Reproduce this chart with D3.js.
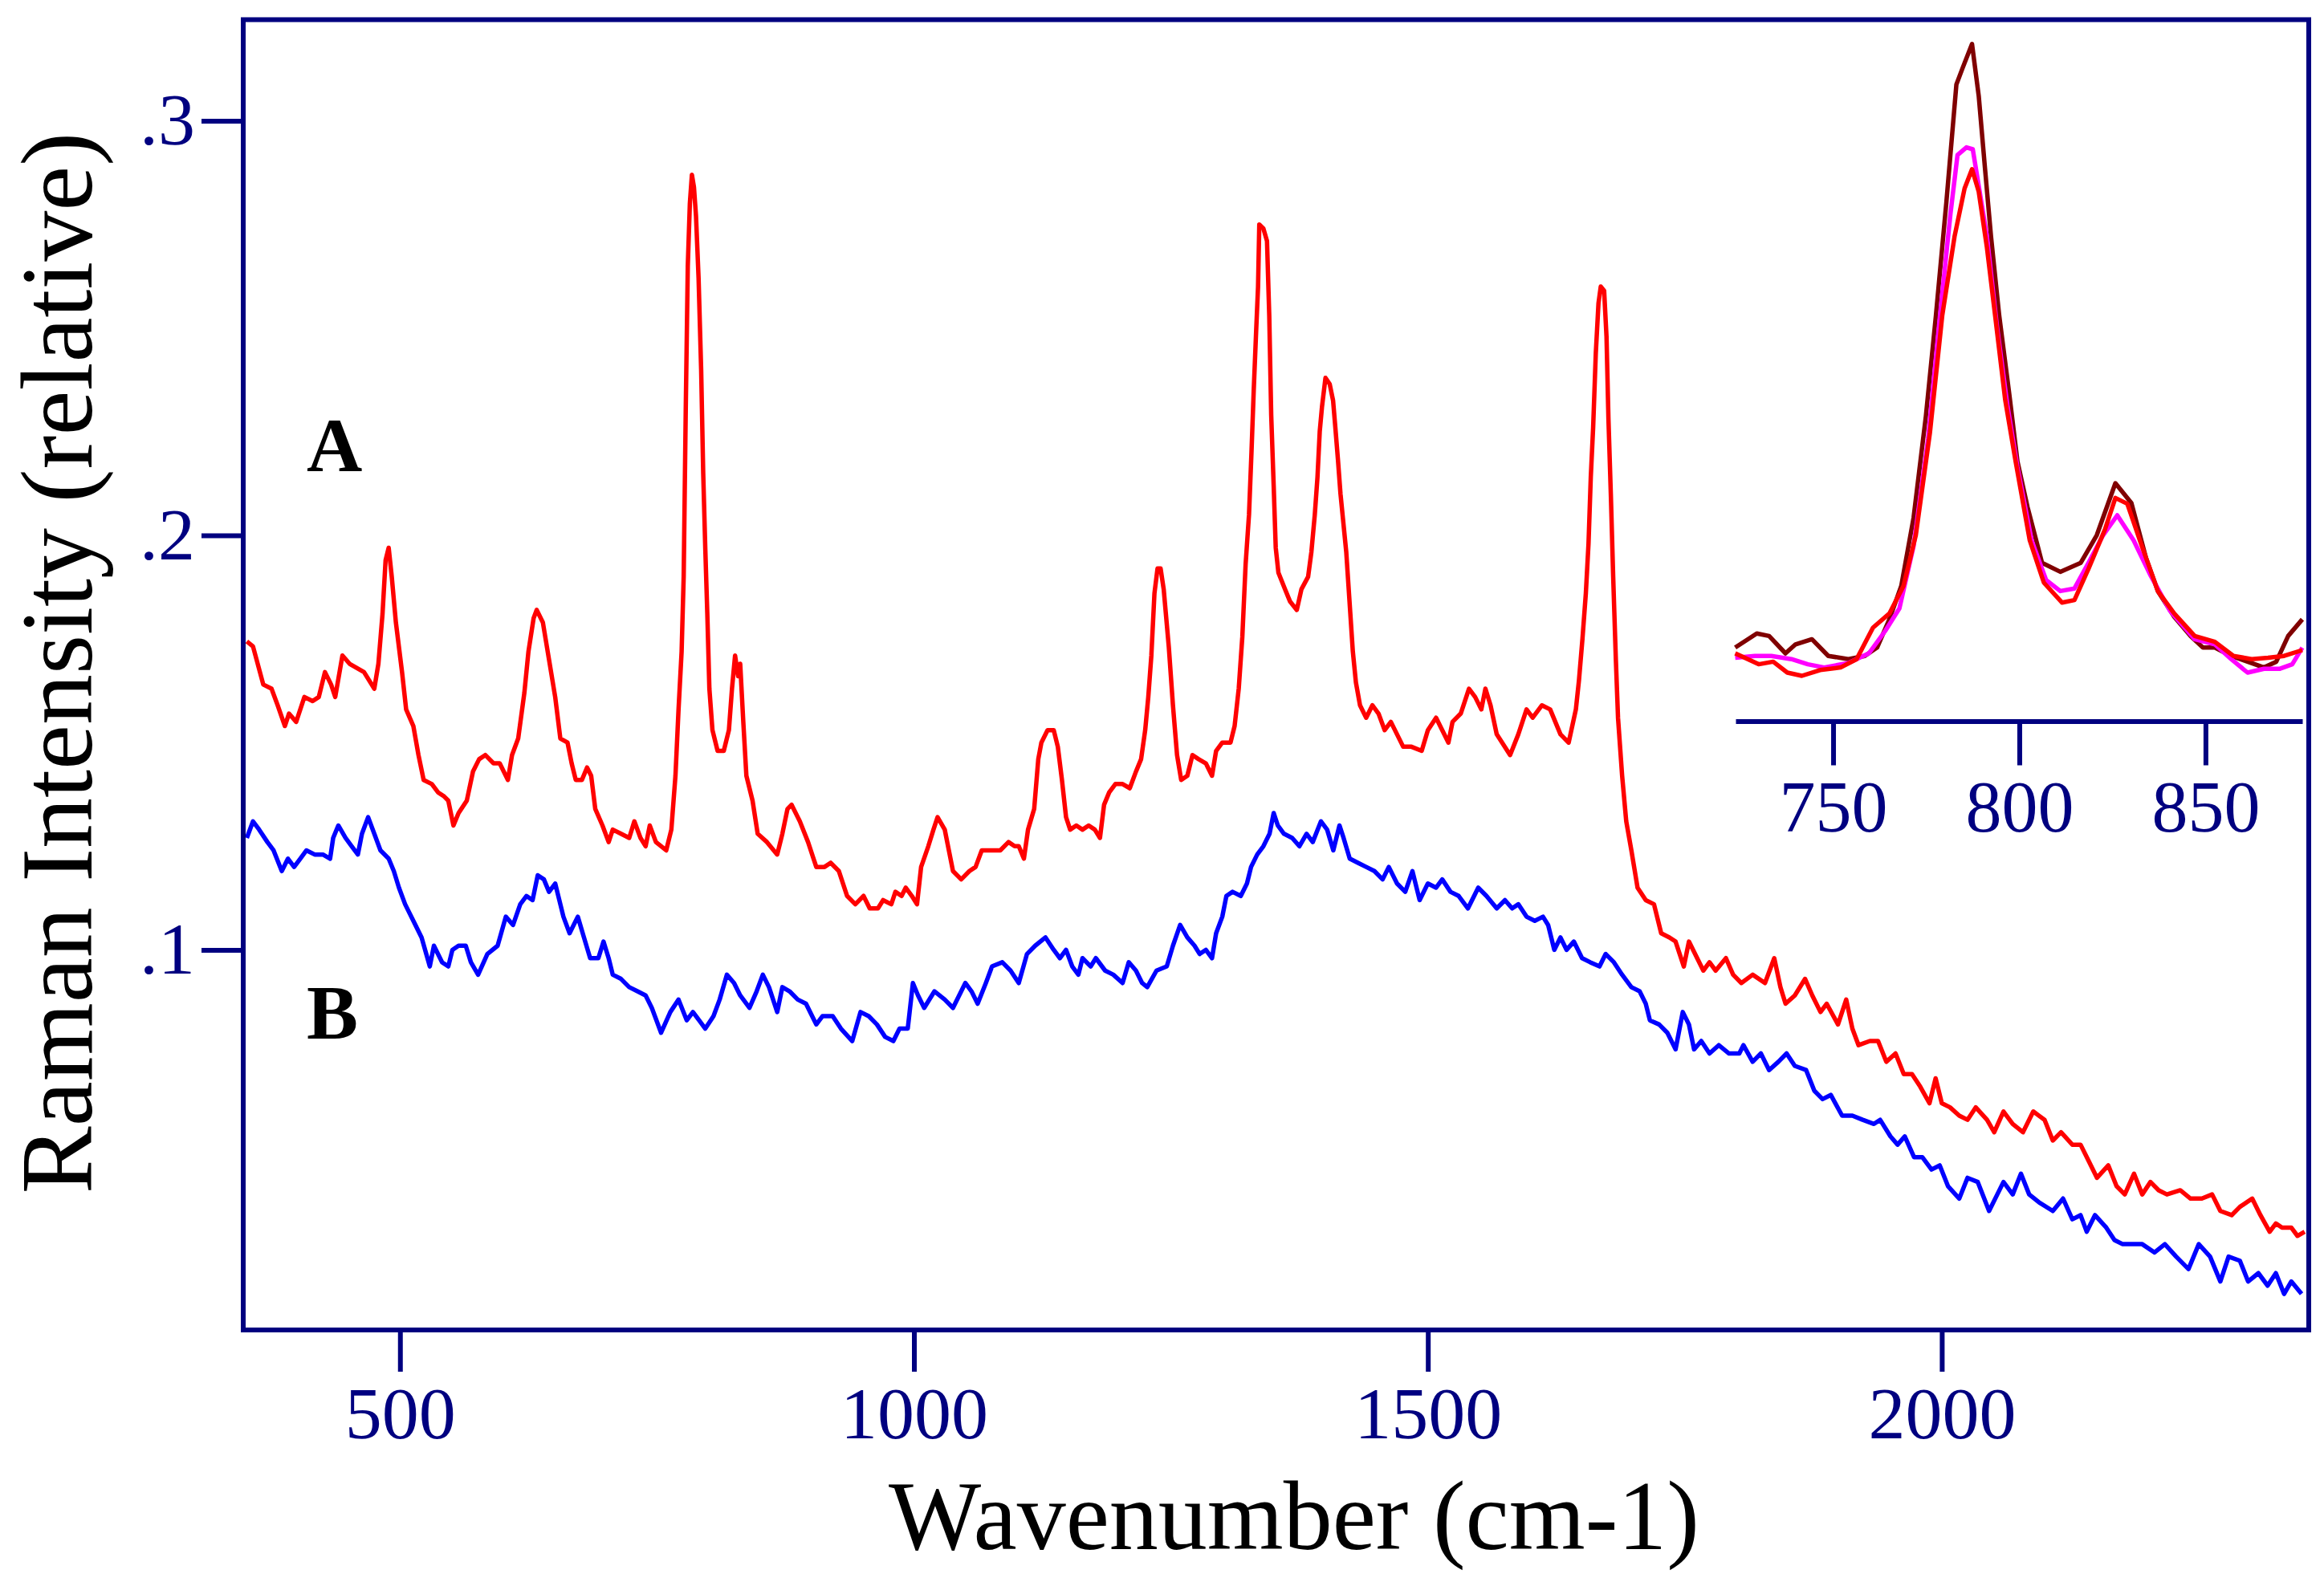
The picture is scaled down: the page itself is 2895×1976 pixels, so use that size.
<!DOCTYPE html>
<html>
<head>
<meta charset="utf-8">
<script src="https://cdn.jsdelivr.net/npm/d3@7"></script>
<style>
  html, body { margin: 0; padding: 0; background: #fff; overflow: hidden; }
  svg { display: block; }
  text { font-family: "Liberation Serif", "Times New Roman", serif; }
</style>
</head>
<body>
<div id="grafico"></div>
<script>
// espectros raman A (rojo) y B (azul), y un recuadro con el pico de ~785 cm-1
// los puntos se leyeron a ojo del grafico original

var ANCHO = 2895, ALTO = 1976;

var ticksX = [500, 1000, 1500, 2000];
var ticksY = [0.1, 0.2, 0.3];
var ticksRecuadro = [750, 800, 850];

// espectro A: [numero de onda, intensidad]
var espectroA = [
  [351,0.1744],[357,0.1732],[367,0.164],[375,0.163],[381,0.159],[388,0.154],[392,0.157],[399,0.155],
  [407,0.161],[415,0.160],[421,0.161],[427,0.167],[433,0.164],[437,0.161],[444,0.171],[451,0.169],
  [465,0.167],[475,0.163],[479,0.169],[483,0.181],[486,0.194],[489,0.197],[492,0.190],[496,0.179],
  [502,0.167],[506,0.158],[513,0.154],[518,0.147],[523,0.141],[531,0.140],[537,0.138],[543,0.137],
  [547,0.136],[552,0.130],[557,0.133],[565,0.136],[571,0.143],[577,0.146],[583,0.147],[591,0.145],
  [597,0.145],[605,0.141],[609,0.147],[615,0.151],[621,0.162],[625,0.172],[630,0.180],[633,0.182],
  [639,0.179],[645,0.170],[651,0.161],[656,0.151],[663,0.150],[667,0.145],[671,0.141],[677,0.141],
  [682,0.144],[686,0.142],[690,0.134],[697,0.130],[703,0.126],[707,0.129],[715,0.128],[723,0.127],
  [728,0.131],[734,0.127],[739,0.125],[743,0.130],[749,0.126],[759,0.124],[764,0.129],[768,0.142],
  [771,0.158],[774,0.172],[776,0.190],[778,0.230],[780,0.265],[782,0.280],[784,0.287],[786,0.284],
  [788,0.277],[790.5,0.262],[793,0.240],[795,0.215],[797,0.197],[799,0.181],[801,0.163],[804,0.153],
  [809,0.148],[815,0.148],[820,0.153],[823,0.163],[826,0.171],[829,0.166],[831,0.169],[834,0.155],
  [837,0.142],[843,0.136],[848,0.128],[857,0.126],[867,0.123],[872,0.128],[877,0.134],[881,0.135],
  [889,0.131],[897,0.126],[905,0.120],[913,0.120],[919,0.121],[927,0.119],[935,0.113],[943,0.111],
  [951,0.113],[957,0.110],[965,0.110],[970,0.112],[978,0.111],[982,0.114],[988,0.113],[992,0.115],
  [998,0.113],[1003,0.111],[1007,0.120],[1014,0.125],[1019,0.129],[1023,0.132],[1030,0.129],[1034,0.124],
  [1038,0.119],[1046,0.117],[1054,0.119],[1060,0.120],[1066,0.124],[1076,0.124],[1084,0.124],[1092,0.126],
  [1098,0.125],[1102,0.125],[1107,0.122],[1111,0.129],[1117,0.134],[1121,0.146],[1124,0.150],[1130,0.153],
  [1136,0.153],[1140,0.149],[1144,0.141],[1148,0.132],[1152,0.129],[1158,0.130],[1164,0.129],[1170,0.130],
  [1176,0.129],[1181,0.127],[1185,0.135],[1190,0.138],[1196,0.140],[1203,0.140],[1210,0.139],[1216,0.143],
  [1221,0.146],[1225,0.153],[1228,0.161],[1231,0.171],[1234,0.186],[1237,0.192],[1240,0.192],[1243,0.187],
  [1248,0.173],[1252,0.159],[1256,0.147],[1260,0.141],[1266,0.142],[1271,0.147],[1277,0.146],[1284,0.145],
  [1290,0.142],[1294,0.148],[1300,0.150],[1308,0.150],[1312,0.154],[1316,0.163],[1319.5,0.1755],[1322.7,0.193],
  [1326,0.205],[1328.4,0.220],[1330.6,0.235],[1332.9,0.249],[1334.8,0.260],[1336,0.275],[1340,0.274],[1343.5,0.271],
  [1345.7,0.253],[1347.6,0.229],[1350,0.212],[1352,0.197],[1354.6,0.191],[1361,0.187],[1366,0.184],[1372.5,0.182],
  [1377,0.187],[1383.5,0.190],[1386.7,0.196],[1390,0.205],[1392.6,0.214],[1394.8,0.225],[1397,0.231],[1400.4,0.238],
  [1404.5,0.2365],[1407.8,0.2325],[1410,0.226],[1412.6,0.218],[1415,0.210],[1417.4,0.204],[1420.6,0.196],[1423.8,0.184],
  [1427,0.172],[1430,0.1645],[1434,0.159],[1440,0.156],[1446,0.159],[1452,0.157],[1458,0.153],[1464,0.155],
  [1470,0.152],[1476,0.149],[1484,0.149],[1494,0.148],[1500,0.153],[1508,0.156],[1514,0.153],[1520,0.150],
  [1524,0.155],[1532,0.157],[1540,0.163],[1546,0.161],[1552,0.158],[1556,0.163],[1561,0.159],[1567,0.152],
  [1580,0.147],[1588,0.152],[1596,0.158],[1602,0.156],[1611,0.159],[1619,0.158],[1629,0.152],[1637,0.150],
  [1644,0.158],[1647,0.165],[1650.4,0.175],[1653.7,0.186],[1656.3,0.198],[1658.5,0.214],[1660.8,0.226],[1663.4,0.244],
  [1666,0.256],[1668.2,0.260],[1671.5,0.259],[1673.8,0.248],[1675.7,0.228],[1678,0.210],[1680.3,0.190],[1682.9,0.170],
  [1685,0.156],[1689,0.142],[1693,0.131],[1698,0.124],[1704,0.115],[1712,0.112],[1720,0.111],[1727,0.104],
  [1735,0.103],[1741,0.102],[1749,0.096],[1754,0.102],[1762,0.098],[1768,0.095],[1774,0.097],[1780,0.095],
  [1790,0.098],[1797,0.094],[1805,0.092],[1816,0.094],[1828,0.092],[1837,0.098],[1843,0.091],[1848,0.087],
  [1857,0.089],[1867,0.093],[1874,0.089],[1882,0.085],[1888,0.087],[1899,0.082],[1907,0.088],[1913,0.081],
  [1919,0.077],[1930,0.078],[1938,0.078],[1946,0.073],[1955,0.075],[1963,0.070],[1971,0.070],[1979,0.067],
  [1988,0.063],[1994,0.069],[2000,0.063],[2008,0.062],[2017,0.060],[2025,0.059],[2033,0.062],[2044,0.059],
  [2051,0.056],[2060,0.061],[2069,0.058],[2079,0.056],[2089,0.061],[2100,0.059],[2108,0.054],[2116,0.056],
  [2127,0.053],[2135,0.053],[2143,0.049],[2151,0.045],[2162,0.048],[2170,0.043],[2178,0.041],[2187,0.046],
  [2195,0.041],[2203,0.044],[2211,0.042],[2219,0.041],[2232,0.042],[2242,0.040],[2253,0.040],[2263,0.041],
  [2271,0.037],[2282,0.036],[2290,0.038],[2302,0.040],[2310,0.036],[2319,0.032],[2325,0.034],[2331,0.033],
  [2340,0.033],[2346,0.031],[2353,0.032]
];

// espectro B: [numero de onda, intensidad]
var espectroB = [
  [351,0.127],[357,0.131],[363,0.129],[371,0.126],[377,0.124],[385,0.119],[391,0.122],[397,0.120],
  [403,0.122],[409,0.124],[417,0.123],[425,0.123],[432,0.122],[435,0.127],[440,0.130],[447,0.127],
  [453,0.125],[459,0.123],[463,0.128],[469,0.132],[475,0.128],[481,0.124],[489,0.122],[494,0.119],
  [499,0.115],[505,0.111],[513,0.107],[521,0.103],[529,0.096],[533,0.101],[541,0.097],[547,0.096],
  [551,0.100],[557,0.101],[564,0.101],[569,0.097],[576,0.094],[585,0.099],[595,0.101],[603,0.108],
  [610,0.106],[617,0.111],[623,0.113],[629,0.112],[634,0.118],[640,0.117],[645,0.114],[651,0.116],
  [655,0.112],[659,0.108],[665,0.104],[673,0.108],[679,0.103],[685,0.098],[693,0.098],[698,0.102],
  [703,0.098],[707,0.094],[715,0.093],[723,0.091],[731,0.090],[739,0.089],[745,0.086],[754,0.080],
  [763,0.085],[771,0.088],[779,0.083],[785,0.085],[791,0.083],[797,0.081],[805,0.084],[811,0.088],
  [818,0.094],[825,0.092],[831,0.089],[840,0.086],[847,0.090],[853,0.094],[859,0.091],[867,0.085],
  [872,0.091],[879,0.090],[887,0.088],[895,0.087],[905,0.082],[911,0.084],[921,0.084],[929,0.081],
  [940,0.078],[948,0.085],[956,0.084],[964,0.082],[972,0.079],[980,0.078],[986,0.081],[994,0.081],
  [999,0.092],[1004,0.089],[1010,0.086],[1020,0.090],[1030,0.088],[1038,0.086],[1050,0.092],[1056,0.090],
  [1062,0.087],[1070,0.092],[1076,0.096],[1086,0.097],[1094,0.095],[1102,0.092],[1110,0.099],[1118,0.101],
  [1128,0.103],[1136,0.100],[1142,0.098],[1148,0.100],[1154,0.096],[1160,0.094],[1164,0.098],[1172,0.096],
  [1177,0.098],[1186,0.095],[1194,0.094],[1203,0.092],[1209,0.097],[1216,0.095],[1222,0.092],[1227,0.091],
  [1236,0.095],[1246,0.096],[1252,0.101],[1259,0.106],[1266,0.103],[1273,0.101],[1278,0.099],[1284,0.100],
  [1290,0.098],[1294,0.104],[1300,0.108],[1304,0.113],[1310,0.114],[1318,0.113],[1324,0.116],[1328,0.120],
  [1334,0.123],[1340,0.125],[1346,0.128],[1350,0.133],[1354,0.130],[1360,0.128],[1368,0.127],[1375,0.125],
  [1382,0.128],[1388,0.126],[1396,0.131],[1402,0.129],[1408,0.124],[1414,0.130],[1418,0.127],[1424,0.122],
  [1432,0.121],[1440,0.120],[1448,0.119],[1456,0.117],[1462,0.120],[1470,0.116],[1478,0.114],[1485,0.119],
  [1492,0.112],[1500,0.116],[1508,0.115],[1514,0.117],[1522,0.114],[1530,0.113],[1539,0.110],[1549,0.115],
  [1557,0.113],[1567,0.110],[1575,0.112],[1582,0.110],[1588,0.111],[1596,0.108],[1604,0.107],[1612,0.108],
  [1617,0.106],[1623,0.100],[1629,0.103],[1635,0.100],[1642,0.102],[1650,0.098],[1658,0.097],[1667,0.096],
  [1673,0.099],[1681,0.097],[1689,0.094],[1698,0.091],[1706,0.090],[1712,0.087],[1716,0.083],[1725,0.082],
  [1733,0.080],[1741,0.076],[1748,0.085],[1754,0.082],[1759,0.076],[1766,0.078],[1774,0.075],[1783,0.077],
  [1793,0.075],[1803,0.075],[1807,0.077],[1816,0.073],[1824,0.075],[1832,0.071],[1841,0.073],[1849,0.075],
  [1857,0.072],[1868,0.071],[1876,0.066],[1884,0.064],[1892,0.065],[1903,0.060],[1913,0.060],[1923,0.059],
  [1934,0.058],[1940,0.059],[1950,0.055],[1957,0.053],[1964,0.055],[1973,0.050],[1981,0.050],[1990,0.047],
  [1998,0.048],[2006,0.043],[2017,0.040],[2025,0.045],[2035,0.044],[2046,0.037],[2054,0.041],[2060,0.044],
  [2069,0.041],[2077,0.046],[2085,0.041],[2095,0.039],[2108,0.037],[2118,0.040],[2127,0.035],[2135,0.036],
  [2141,0.032],[2149,0.036],[2160,0.033],[2168,0.030],[2176,0.029],[2187,0.029],[2195,0.029],[2207,0.027],
  [2217,0.029],[2228,0.026],[2240,0.023],[2250,0.029],[2261,0.026],[2271,0.020],[2279,0.026],[2290,0.025],
  [2298,0.020],[2308,0.022],[2317,0.019],[2325,0.022],[2333,0.017],[2340,0.020],[2350,0.017]
];

// recuadro: tres espectros alrededor del pico, intensidad relativa (0 = base, 1 = tope)
var recuadroGranate = [
  [723.7,0.054],[729.5,0.076],[732.8,0.072],[737.2,0.045],[739.9,0.059],[744.3,0.067],[748.7,0.041],[754.1,0.036],
  [758.5,0.041],[761.8,0.054],[765.1,0.098],[768.3,0.150],[771.6,0.256],[774.9,0.414],[777.6,0.571],[780.4,0.747],
  [783.1,0.931],[784.8,0.957],[787.3,0.994],[789.1,0.913],[790.8,0.799],[792.4,0.694],[794.6,0.571],[797.3,0.449],
  [799.5,0.344],[802.2,0.273],[806.1,0.186],[811,0.172],[816.5,0.186],[820.8,0.229],[825.8,0.310],[830.1,0.279],
  [834,0.194],[837.2,0.142],[841.6,0.102],[846,0.072],[849.3,0.054],[852.5,0.054],[856.9,0.041],[861.3,0.032],
  [865.7,0.023],[869,0.032],[872.2,0.072],[876,0.098]
];
var recuadroMagenta = [
  [723.7,0.038],[729,0.041],[733.4,0.041],[738.8,0.036],[743.2,0.028],[747.6,0.023],[754.1,0.030],[759.6,0.045],
  [764,0.080],[767.8,0.115],[771.6,0.212],[775.5,0.379],[778.7,0.571],[781.5,0.729],[783.4,0.821],[785.8,0.833],
  [787.5,0.830],[789.1,0.773],[791.3,0.694],[794,0.554],[796.8,0.431],[799.5,0.335],[803.3,0.221],[807.2,0.159],
  [811,0.142],[814.8,0.146],[818.6,0.186],[822.5,0.229],[826.3,0.260],[830.7,0.221],[835.1,0.168],[840.5,0.111],
  [847.1,0.067],[852.5,0.059],[856.9,0.036],[861.3,0.015],[865.7,0.021],[870,0.021],[873.3,0.028],[876,0.054]
];
var recuadroRojo = [
  [723.7,0.045],[730,0.028],[733.9,0.032],[737.7,0.015],[741.6,0.010],[746.5,0.019],[752,0.023],[756.3,0.036],
  [760.7,0.085],[765.1,0.107],[768.9,0.150],[772.2,0.229],[776,0.389],[779.3,0.571],[782.6,0.694],[785.3,0.769],
  [787.3,0.799],[789.1,0.764],[791.3,0.677],[793.5,0.571],[796.2,0.440],[799,0.344],[802.8,0.221],[806.6,0.155],
  [811.5,0.124],[814.8,0.128],[818.6,0.177],[823,0.238],[825.8,0.287],[829,0.278],[832.9,0.212],[837.2,0.142],
  [841.6,0.107],[847.1,0.072],[852.5,0.063],[857.5,0.041],[862.4,0.036],[866.8,0.038],[871.1,0.041],[876,0.050]
];

var AZUL_EJE = "#000080";

var svg = d3.select("#grafico").append("svg")
  .attr("width", ANCHO)
  .attr("height", ALTO);

// marco del grafico principal
var izq = 303, der = 2876, arriba = 24.5, abajo = 1657;

var x = d3.scaleLinear().domain([347.5, 2357]).range([izq, der]);
var y = d3.scaleLinear().domain([0.0083, 0.3244]).range([abajo, arriba]);

var linea = d3.line()
  .x(function (d) { return x(d[0]); })
  .y(function (d) { return y(d[1]); });

svg.append("path")
  .datum(espectroB)
  .attr("d", linea)
  .attr("fill", "none")
  .attr("stroke", "#0000ff")
  .attr("stroke-width", 5.5)
  .attr("stroke-linejoin", "round");

svg.append("path")
  .datum(espectroA)
  .attr("d", linea)
  .attr("fill", "none")
  .attr("stroke", "#ff0000")
  .attr("stroke-width", 5.5)
  .attr("stroke-linejoin", "round");

// ejes: sin linea de dominio, el marco se dibuja aparte
var ejeY = d3.axisLeft(y)
  .tickValues(ticksY)
  .tickSize(52)
  .tickSizeOuter(0)
  .tickPadding(8)
  .tickFormat(function (d) { return d3.format(".1f")(d).replace(/^0/, ""); });

var ejeX = d3.axisBottom(x)
  .tickValues(ticksX)
  .tickSize(52)
  .tickSizeOuter(0)
  .tickPadding(18)
  .tickFormat(d3.format("d"));

function estilarEje(g, tam) {
  g.select(".domain").remove();
  g.selectAll(".tick line").attr("stroke", AZUL_EJE).attr("stroke-width", 6);
  g.selectAll(".tick text")
    .attr("fill", AZUL_EJE)
    .style("font-family", '"Liberation Serif", "Times New Roman", serif')
    .style("font-size", tam + "px");
}

svg.append("g").attr("transform", "translate(" + izq + ",0)").call(ejeY).call(estilarEje, 92);
svg.append("g").attr("transform", "translate(0," + abajo + ")").call(ejeX).call(estilarEje, 92);

svg.append("rect")
  .attr("x", izq).attr("y", arriba)
  .attr("width", der - izq).attr("height", abajo - arriba)
  .attr("fill", "none")
  .attr("stroke", AZUL_EJE)
  .attr("stroke-width", 6);

// recuadro del pico
var xi = d3.scaleLinear().domain([723.8, 876]).range([2162, 2868]);
var yi = d3.scaleLinear().domain([0, 1]).range([850, 50]);

var lineaRecuadro = d3.line()
  .x(function (d) { return xi(d[0]); })
  .y(function (d) { return yi(d[1]); });

[[recuadroGranate, "#800000"], [recuadroMagenta, "#ff00ff"], [recuadroRojo, "#ff0000"]].forEach(function (s) {
  svg.append("path")
    .datum(s[0])
    .attr("d", lineaRecuadro)
    .attr("fill", "none")
    .attr("stroke", s[1])
    .attr("stroke-width", 5.5)
    .attr("stroke-linejoin", "round");
});

var ejeRecuadro = d3.axisBottom(xi)
  .tickValues(ticksRecuadro)
  .tickSize(55)
  .tickSizeOuter(0)
  .tickPadding(19)
  .tickFormat(d3.format("d"));

var gRec = svg.append("g").attr("transform", "translate(0,898.5)").call(ejeRecuadro);
gRec.select(".domain").attr("stroke", AZUL_EJE).attr("stroke-width", 6);
gRec.selectAll(".tick line").attr("stroke", AZUL_EJE).attr("stroke-width", 6);
gRec.selectAll(".tick text")
  .attr("fill", AZUL_EJE)
  .style("font-family", '"Liberation Serif", "Times New Roman", serif')
  .style("font-size", "90px");

// letras de los espectros
svg.append("text")
  .attr("x", 382).attr("y", 587)
  .attr("font-size", 96).attr("font-weight", "bold")
  .attr("fill", "#000")
  .text("A");

svg.append("text")
  .attr("x", 382).attr("y", 1294)
  .attr("font-size", 96).attr("font-weight", "bold")
  .attr("fill", "#000")
  .text("B");

// titulos de los ejes
svg.append("text")
  .attr("transform", "translate(114,826) rotate(-90)")
  .attr("text-anchor", "middle")
  .attr("font-size", 126)
  .attr("fill", "#000")
  .text("Raman Intensity (relative)");

svg.append("text")
  .attr("x", 1612).attr("y", 1930)
  .attr("text-anchor", "middle")
  .attr("font-size", 122)
  .attr("fill", "#000")
  .text("Wavenumber (cm-1)");
</script>
</body>
</html>
